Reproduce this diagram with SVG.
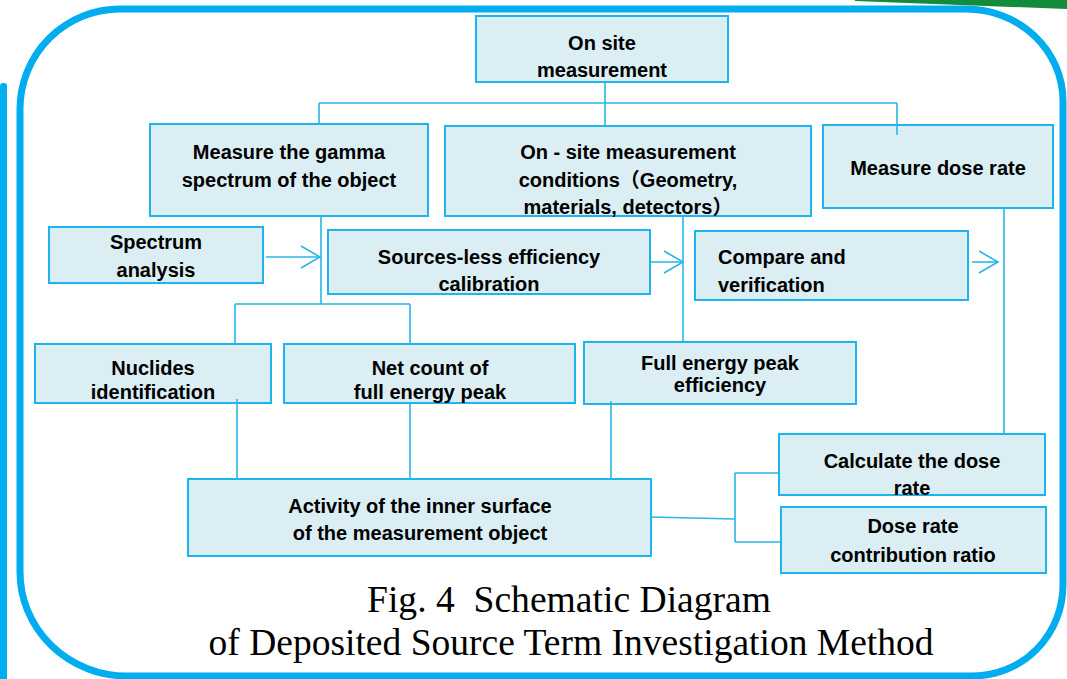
<svg xmlns="http://www.w3.org/2000/svg" width="1067" height="679" viewBox="0 0 1067 679">
<style>
.box{fill:#DAEEF3;stroke:#1EB4EC;stroke-width:2}
.t{font-family:"Liberation Sans","Noto Sans CJK SC",sans-serif;font-weight:bold;font-size:20px;fill:#000;text-anchor:middle}
.tl{text-anchor:start}
.c{fill:none;stroke:#29B6E8;stroke-width:1.6}
.cap{font-family:"Liberation Serif","Times New Roman",serif;font-size:37px;fill:#000;text-anchor:middle}
</style>
<defs>
<marker id="arr" markerUnits="userSpaceOnUse" markerWidth="22" markerHeight="26" refX="20" refY="12" orient="auto" viewBox="0 0 22 26">
<path d="M1,1 L20,12 L1,23" fill="none" stroke="#29B6E8" stroke-width="1.6"/>
</marker>
</defs>
<rect width="1067" height="679" fill="#fff"/>
<g id="decor">
<polygon points="855,0 1067,0 1067,9 960,5 855,1" fill="#138A3C"/>
<rect x="0" y="83" width="7" height="600" rx="3" fill="#00AEEF"/>
<path d="M120,9 H966 A97,92 0 0 1 1063,101 V585 A90,91 0 0 1 973,676 H127 A107,104 0 0 1 20,572 V109 A100,100 0 0 1 120,9 Z" fill="none" stroke="#00AEEF" stroke-width="7"/>
</g>
<g id="n-onsite"><rect class="box" x="476" y="16" width="252" height="66"/><text class="t" x="602" y="50">On site</text><text class="t" x="602" y="77">measurement</text></g>
<g id="n-gamma"><rect class="box" x="150" y="124" width="278" height="92"/><text class="t" x="289" y="159">Measure the gamma</text><text class="t" x="289" y="187">spectrum of the object</text></g>
<g id="n-conditions"><rect class="box" x="445" y="126" width="366" height="90"/><text class="t" x="628" y="159">On - site measurement</text><text class="t" x="628" y="187">conditions（Geometry,</text><text class="t" x="628" y="214">materials, detectors）</text></g>
<g id="n-doserate"><rect class="box" x="823" y="125" width="230" height="83"/><text class="t" x="938" y="175">Measure dose rate</text></g>
<g id="n-spectrum"><rect class="box" x="49" y="227" width="214" height="56"/><text class="t" x="156" y="249">Spectrum</text><text class="t" x="156" y="277">analysis</text></g>
<g id="n-sourceless"><rect class="box" x="328" y="230" width="322" height="64"/><text class="t" x="489" y="264">Sources-less efficiency</text><text class="t" x="489" y="291">calibration</text></g>
<g id="n-compare"><rect class="box" x="695" y="231" width="273" height="69"/><text class="t tl" x="718" y="264">Compare and</text><text class="t tl" x="718" y="292">verification</text></g>
<g id="n-nuclides"><rect class="box" x="35" y="344" width="236" height="59"/><text class="t" x="153" y="375">Nuclides</text><text class="t" x="153" y="399">identification</text></g>
<g id="n-netcount"><rect class="box" x="284" y="344" width="291" height="59"/><text class="t" x="430" y="375">Net count of</text><text class="t" x="430" y="399">full energy peak</text></g>
<g id="n-fullpeak"><rect class="box" x="584" y="342" width="272" height="62"/><text class="t" x="720" y="370">Full energy peak</text><text class="t" x="720" y="392">efficiency</text></g>
<g id="n-activity"><rect class="box" x="188" y="479" width="463" height="77"/><text class="t" x="420" y="513">Activity of the inner surface</text><text class="t" x="420" y="540">of the measurement object</text></g>
<g id="n-calc"><rect class="box" x="779" y="434" width="266" height="61"/><text class="t" x="912" y="468">Calculate the dose</text><text class="t" x="912" y="495">rate</text></g>
<g id="n-ratio"><rect class="box" x="781" y="507" width="265" height="66"/><text class="t" x="913" y="533">Dose rate</text><text class="t" x="913" y="562">contribution ratio</text></g>
<g id="connectors">
<path class="c" d="M605,82 V127 M319,103 H897 M319,103 V124 M897,103 V135"/>
<path class="c" d="M321,216 V304 M235,304 H410 M235,304 V344 M410,304 V344"/>
<path class="c" d="M683,216 V342"/>
<path class="c" d="M1004,208 V434"/>
<path class="c" d="M237,399 V479 M410,403 V479 M611,401 V479"/>
<path class="c" d="M651,517 L735,519 M735,473 V542 M735,473 H779 M735,542 H781"/>
<path class="c" d="M266,257 H320" marker-end="url(#arr)"/>
<path class="c" d="M650,262 H683" marker-end="url(#arr)"/>
<path class="c" d="M972,262 H998" marker-end="url(#arr)"/>
</g>
<g id="caption">
<text class="cap" x="569" y="612" textLength="404" lengthAdjust="spacingAndGlyphs" xml:space="preserve">Fig. 4  Schematic Diagram</text>
<text class="cap" x="571" y="655" textLength="725" lengthAdjust="spacingAndGlyphs">of Deposited Source Term Investigation Method</text>
</g>
</svg>
